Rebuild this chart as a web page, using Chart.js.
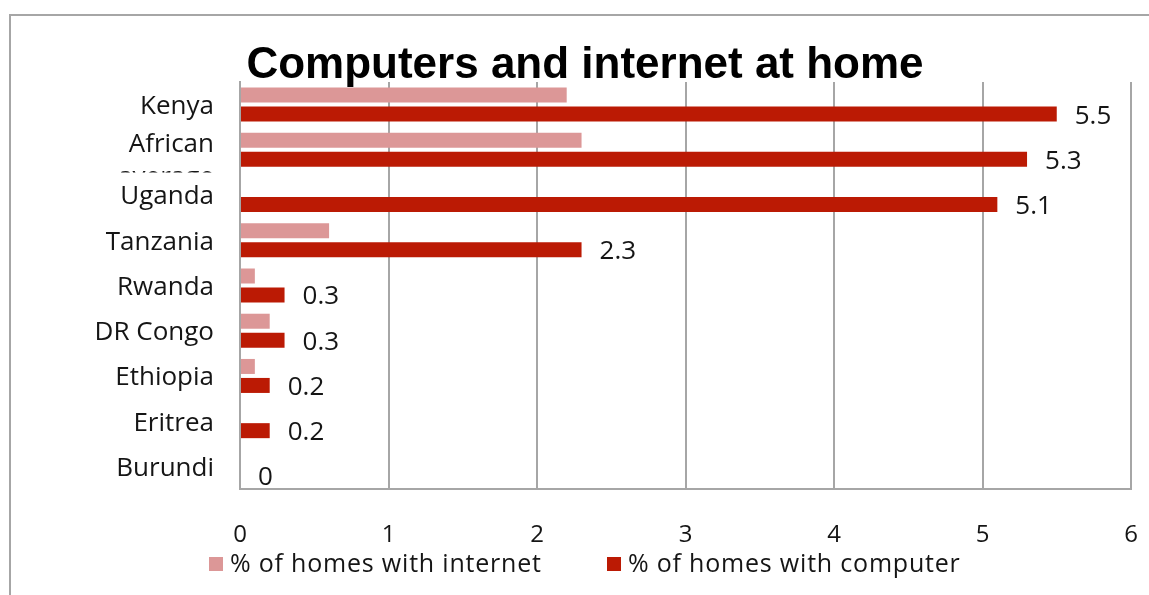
<!DOCTYPE html>
<html>
<head>
<meta charset="utf-8">
<script src="https://cdn.jsdelivr.net/npm/chart.js@4/dist/chart.umd.min.js"></script>
<style>
  html, body { margin: 0; padding: 0; background: #ffffff; }
  #wrap { width: 1149px; height: 595px; position: relative; }
</style>
</head>
<body>
<div id="wrap"><canvas id="chart" width="1149" height="595"></canvas></div>
<script>
// Share of homes (%) per country
const categories = ['Kenya', 'African average', 'Uganda', 'Tanzania', 'Rwanda', 'DR Congo', 'Ethiopia', 'Eritrea', 'Burundi'];
const internetShare = [2.2, 2.3, 0, 0.6, 0.1, 0.2, 0.1, 0, 0];
const computerShare = [5.5, 5.3, 5.1, 2.3, 0.3, 0.3, 0.2, 0.2, 0];
const xTickValues = [0, 1, 2, 3, 4, 5, 6];
const seriesNames = ['% of homes with internet', '% of homes with computer'];
const titleText = 'Computers and internet at home';

const PINK = '#dc9797';
const RED = '#bb1a04';
const GRID = '#a6a6a6';
const INK = '#151515';
const BODY_FONT = '"Open Sans", "Liberation Sans", sans-serif';

// Outer frame, title, wrapped category labels, value labels and legend
const decorations = {
  id: 'decorations',
  beforeDraw(chart) {
    const ctx = chart.ctx;
    ctx.save();
    ctx.fillStyle = '#ffffff';
    ctx.fillRect(0, 0, chart.width, chart.height);
    ctx.strokeStyle = GRID;
    ctx.lineWidth = 2;
    ctx.strokeRect(10, 15, chart.width + 20, chart.height + 20);
    ctx.restore();
  },
  afterDraw(chart) {
    const ctx = chart.ctx;
    const area = chart.chartArea;
    const x = chart.scales.x;
    const y = chart.scales.y;

    // title
    ctx.save();
    ctx.fillStyle = '#000000';
    ctx.font = 'bold 44px "Liberation Sans", Arial, sans-serif';
    ctx.textAlign = 'center';
    ctx.textBaseline = 'alphabetic';
    ctx.fillText(titleText, 585, 78);
    ctx.restore();

    // category labels, wrapped and clipped to their own band
    const band = (y.bottom - y.top) / categories.length;
    ctx.save();
    ctx.fillStyle = INK;
    ctx.font = '26px ' + BODY_FONT;
    ctx.textAlign = 'right';
    ctx.textBaseline = 'middle';
    const maxW = 140;
    categories.forEach((name, i) => {
      const yc = y.getPixelForValue(i);
      const words = name.split(' ');
      const lines = [];
      let cur = '';
      words.forEach(w => {
        const test = cur ? cur + ' ' + w : w;
        if (cur && ctx.measureText(test).width > maxW) { lines.push(cur); cur = w; }
        else cur = test;
      });
      lines.push(cur);
      const rx = area.left - 26;
      ctx.save();
      ctx.beginPath();
      ctx.rect(0, yc - band / 2, area.left, band);
      ctx.clip();
      if (lines.length === 1) {
        ctx.fillText(lines[0], rx, yc + 2);
      } else {
        lines.forEach((ln, k) => ctx.fillText(ln, rx, yc - 5 + k * 33));
      }
      ctx.restore();
    });
    ctx.restore();

    // value labels for the computer series
    const meta = chart.getDatasetMeta(1);
    ctx.save();
    ctx.fillStyle = INK;
    ctx.font = '26px ' + BODY_FONT;
    ctx.textAlign = 'left';
    ctx.textBaseline = 'middle';
    computerShare.forEach((v, i) => {
      const bar = meta.data[i];
      ctx.fillText(String(v), x.getPixelForValue(v) + 18, bar.y + 2);
    });
    ctx.restore();

    // legend
    const items = chart.data.datasets.map(ds => ({ label: ds.label, color: ds.backgroundColor }));
    const legendX = [209, 607];
    ctx.save();
    ctx.font = '25px ' + BODY_FONT;
    if ('letterSpacing' in ctx) ctx.letterSpacing = '0.8px';
    ctx.textAlign = 'left';
    ctx.textBaseline = 'middle';
    items.forEach((it, k) => {
      ctx.fillStyle = it.color;
      ctx.fillRect(legendX[k], 557, 14, 14);
      ctx.fillStyle = INK;
      ctx.fillText(it.label, legendX[k] + 21, 565);
    });
    ctx.restore();
  }
};

function build() {
  new Chart(document.getElementById('chart'), {
    type: 'bar',
    data: {
      labels: categories,
      datasets: [
        { label: seriesNames[0], data: internetShare, backgroundColor: PINK,
          categoryPercentage: 0.84, barPercentage: 0.79 },
        { label: seriesNames[1], data: computerShare, backgroundColor: RED,
          categoryPercentage: 0.84, barPercentage: 0.79 }
      ]
    },
    options: {
      indexAxis: 'y',
      responsive: false,
      animation: false,
      layout: { padding: { left: 240, right: 18, top: 82, bottom: 0 } },
      plugins: { legend: { display: false }, title: { display: false }, tooltip: { enabled: false } },
      scales: {
        x: {
          min: 0, max: 6,
          afterBuildTicks(scale) { scale.ticks = xTickValues.map(v => ({ value: v })); },
          afterFit(scale) {
            scale.height = 106;
            scale.paddingLeft = 0;
            scale.paddingRight = 0;
          },
          grid: { color: GRID, lineWidth: 2, drawTicks: false },
          border: { display: true, color: GRID, width: 2 },
          ticks: { color: INK, padding: 32, font: { family: BODY_FONT, size: 24 } }
        },
        y: {
          afterFit(scale) { scale.width = 0; },
          grid: { display: false, drawTicks: false },
          border: { display: true, color: GRID, width: 2 },
          ticks: { display: false }
        }
      }
    },
    plugins: [decorations]
  });
}

if (document.fonts && document.fonts.load) {
  Promise.all([
    document.fonts.load('26px "Open Sans"'),
    document.fonts.load('bold 44px "Liberation Sans"')
  ]).then(build, build);
} else {
  build();
}
</script>
</body>
</html>
